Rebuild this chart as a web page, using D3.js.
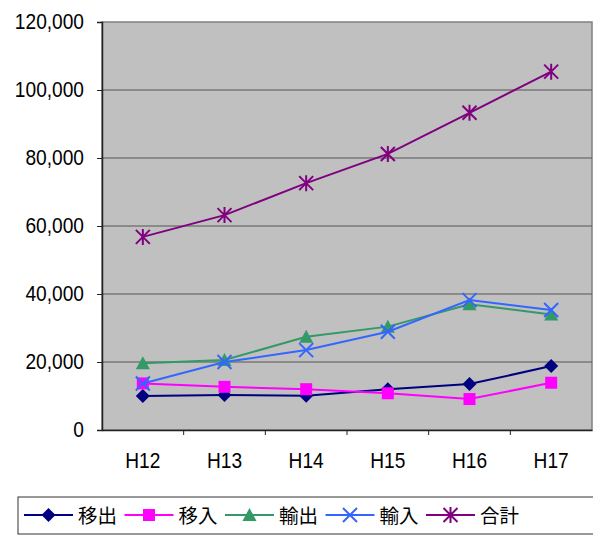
<!DOCTYPE html>
<html>
<head>
<meta charset="utf-8">
<script src="https://cdn.jsdelivr.net/npm/d3@7"></script>
<style>
  body { margin: 0; background: #fff; }
  text { font-family: "Liberation Sans", Arial, sans-serif; fill: #000; }
  .jp { font-family: "Noto Sans CJK JP", sans-serif; }
</style>
</head>
<body>
<div id="chart"></div>
<script>
// Data
const years = ["H12", "H13", "H14", "H15", "H16", "H17"];
const yTicks = [0, 20000, 40000, 60000, 80000, 100000, 120000];
const ishutsu = [10000, 10300, 10100, 12000, 13500, 18800];   // 移出
const inyu    = [13700, 12700, 12000, 10800, 9100, 13900];    // 移入
const yushutsu = [19600, 20600, 27400, 30400, 37000, 34000];  // 輸出
const yunyu   = [13700, 20000, 23500, 28900, 38200, 35300];   // 輸入
const total   = [56800, 63200, 72600, 81200, 93300, 105400];  // 合計

const series = [
  {name: "移出", values: ishutsu, color: "#000080", marker: "diamond"},
  {name: "移入", values: inyu, color: "#FF00FF", marker: "square"},
  {name: "輸出", values: yushutsu, color: "#339966", marker: "triangle"},
  {name: "輸入", values: yunyu, color: "#3366FF", marker: "cross"},
  {name: "合計", values: total, color: "#800080", marker: "star"}
];

const W = 593, H = 535;
const margin = {top: 22, right: 1, bottom: 105, left: 102};
const width = W - margin.left - margin.right,
      height = H - margin.top - margin.bottom;

const svg = d3.select("#chart").append("svg")
    .attr("width", W)
    .attr("height", H);

const g = svg.append("g")
    .attr("transform", "translate(" + margin.left + "," + margin.top + ")");

const xScale = d3.scaleBand().domain(years).range([0, width]);
const yScale = d3.scaleLinear().domain([0, 120000]).range([height, 0]);
const xc = d => xScale(d) + xScale.bandwidth() / 2;

// squeeze text a little horizontally (the original font is narrower)
function narrow(sel, k) {
  sel.each(function () {
    const w = this.getComputedTextLength();
    d3.select(this).attr("textLength", w * k).attr("lengthAdjust", "spacingAndGlyphs");
  });
}

// plot background
g.append("rect")
    .attr("width", width).attr("height", height)
    .attr("fill", "#C0C0C0")
    .attr("stroke", "#808080").attr("stroke-width", 1.5);

// gridlines
g.selectAll(".grid")
    .data(yTicks.filter(t => t > 0 && t < 120000))
    .enter().append("line")
    .attr("x1", 0).attr("x2", width)
    .attr("y1", d => yScale(d)).attr("y2", d => yScale(d))
    .attr("stroke", "#555").attr("stroke-width", 1);

// y axis
const yAxis = g.append("g")
    .call(d3.axisLeft(yScale).tickValues(yTicks).tickSize(5).tickPadding(13)
      .tickFormat(d3.format(",")));
yAxis.select(".domain").attr("stroke", "#222").attr("stroke-width", 1.5);
yAxis.selectAll(".tick line").attr("stroke", "#222");
yAxis.selectAll("text").attr("font-size", 21.5)
    .style("font-family", "'Liberation Sans', Arial, sans-serif")
    .call(narrow, 0.89);

// x axis
const xAxis = g.append("g")
    .attr("transform", "translate(0," + height + ")")
    .call(d3.axisBottom(xScale).tickSize(0).tickPadding(23));
xAxis.select(".domain").attr("stroke", "#222").attr("stroke-width", 1.5);
xAxis.selectAll("text").attr("font-size", 21.5)
    .style("font-family", "'Liberation Sans', Arial, sans-serif")
    .call(narrow, 0.89);
g.selectAll(".xtick")
    .data(years.slice(1))
    .enter().append("line")
    .attr("x1", d => xScale(d)).attr("x2", d => xScale(d))
    .attr("y1", height).attr("y2", height + 5)
    .attr("stroke", "#222");

// marker drawing
function drawMarker(sel, type, color) {
  if (type === "diamond") {
    sel.append("path").attr("d", "M0,-7L7,0L0,7L-7,0Z").attr("fill", color);
  } else if (type === "square") {
    sel.append("rect").attr("x", -6).attr("y", -6).attr("width", 12).attr("height", 12).attr("fill", color);
  } else if (type === "triangle") {
    sel.append("path").attr("d", "M0,-7L7,6L-7,6Z").attr("fill", color);
  } else if (type === "cross") {
    sel.append("path").attr("d", "M-7,-7L7,7M-7,7L7,-7")
      .attr("stroke", color).attr("stroke-width", 2).attr("fill", "none");
  } else if (type === "star") {
    sel.append("path").attr("d", "M-7,-7L7,7M-7,7L7,-7M0,-8L0,8")
      .attr("stroke", color).attr("stroke-width", 2).attr("fill", "none");
  }
}

const line = d3.line()
    .x((d, i) => xc(years[i]))
    .y(d => yScale(d));

series.forEach(s => {
  g.append("path")
    .datum(s.values)
    .attr("d", line)
    .attr("fill", "none")
    .attr("stroke", s.color)
    .attr("stroke-width", 2);
  s.values.forEach((v, i) => {
    const m = g.append("g").attr("transform", "translate(" + xc(years[i]) + "," + yScale(v) + ")");
    drawMarker(m, s.marker, s.color);
  });
});

// legend
const legend = svg.append("g").attr("transform", "translate(18,497)");
legend.append("rect")
    .attr("width", 590).attr("height", 37)
    .attr("fill", "#fff").attr("stroke", "#333").attr("stroke-width", 1);

series.forEach((s, i) => {
  const item = legend.append("g").attr("transform", "translate(" + (6 + i * 100.5) + ",18)");
  item.append("line").attr("x1", 0).attr("x2", 49).attr("y1", 0).attr("y2", 0)
    .attr("stroke", s.color).attr("stroke-width", 2);
  const m = item.append("g").attr("transform", "translate(24.5,0)");
  drawMarker(m, s.marker, s.color);
  item.append("text").attr("class", "jp")
    .attr("x", 54).attr("y", 8)
    .attr("font-size", 19.5)
    .text(s.name);
});
</script>
</body>
</html>
